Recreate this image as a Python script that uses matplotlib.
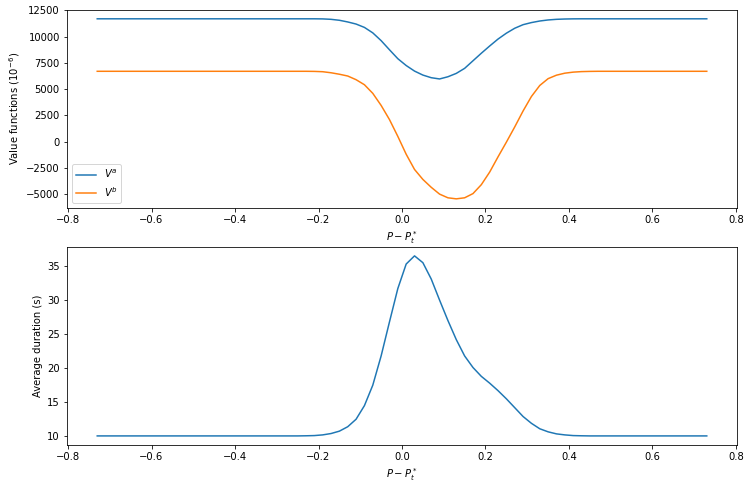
import numpy as np
import matplotlib
matplotlib.use("Agg")
import matplotlib.pyplot as plt

# grid of price deviations P - P_t^*  (-0.73 .. 0.73, step 0.02)
price_dev = np.round(np.arange(-0.73, 0.7301, 0.02), 2)

# value function of side a (units of 1e-6)
va_left = [11700] * 27                     # -0.73 .. -0.21
va_mid = [11690, 11650, 11560, 11400, 11200, 10880, 10360, 9620, 8750, 7900,
          7250, 6720, 6340, 6090, 5970, 6180, 6500, 6980, 7700, 8420,
          9110, 9770, 10330, 10800, 11140, 11340, 11490, 11590, 11650, 11680,
          11695]                           # -0.19 .. 0.41
va_right = [11700] * 16                    # 0.43 .. 0.73
value_a = va_left + va_mid + va_right

# value function of side b
vb_left = [6700] * 26                      # -0.73 .. -0.23
vb_mid = [6690, 6660, 6560, 6420, 6250, 5900, 5420, 4600, 3450, 2100,
          500, -1200, -2650, -3600, -4350, -5000, -5350, -5450, -5350, -4950,
          -4100, -2900, -1450, -50, 1400, 2920, 4300, 5350, 6000, 6330,
          6520, 6620, 6670, 6690]          # -0.21 .. 0.45
vb_right = [6700] * 14                     # 0.47 .. 0.73
value_b = vb_left + vb_mid + vb_right

# average duration in seconds
dur_left = [10.05] * 25                    # -0.73 .. -0.25
dur_mid = [10.07, 10.1, 10.2, 10.4, 10.75, 11.4, 12.5, 14.5, 17.5, 21.8,
           26.8, 31.7, 35.3, 36.5, 35.5, 33.1, 30.0, 27.0, 24.2, 21.8,
           20.1, 18.8, 17.8, 16.7, 15.5, 14.2, 12.9, 11.9, 11.1, 10.65,
           10.35, 10.2, 10.1, 10.07]       # -0.23 .. 0.43
dur_right = [10.05] * 15                   # 0.45 .. 0.73
duration = dur_left + dur_mid + dur_right

fig, (ax1, ax2) = plt.subplots(2, 1, figsize=(750 / 72, 490 / 72), dpi=72)
fig.subplots_adjust(left=0.089, right=0.983, top=0.98, bottom=0.092, hspace=0.197)

# top panel: value functions
ax1.plot(price_dev, value_a, label="$V^a$")
ax1.plot(price_dev, value_b, label="$V^b$")
ax1.set_xlabel("$P - P_t^*$")
ax1.set_ylabel("Value functions ($10^{-6}$)")
ax1.legend(loc="lower left")

# bottom panel: average duration
ax2.plot(price_dev, duration)
ax2.set_xlabel("$P - P_t^*$")
ax2.set_ylabel("Average duration (s)")

fig.savefig("out.png")
